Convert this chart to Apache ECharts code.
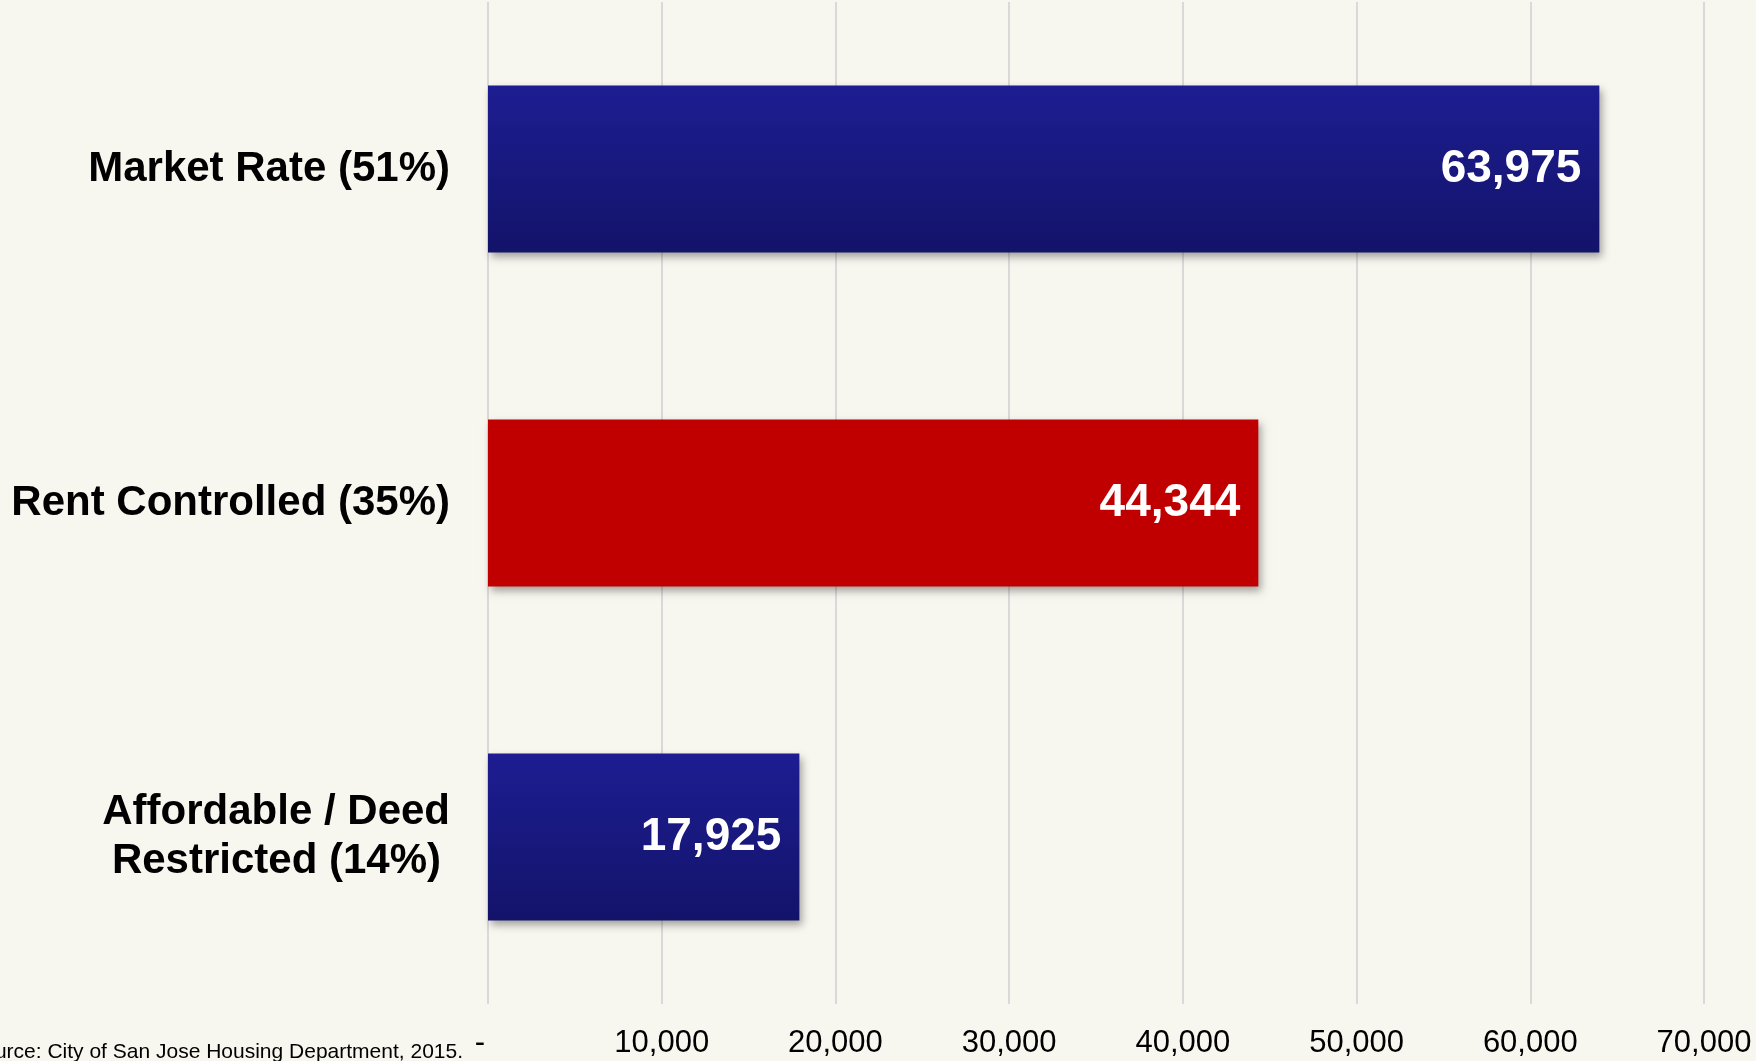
<!DOCTYPE html>
<html>
<head>
<meta charset="utf-8">
<script src="https://cdn.jsdelivr.net/npm/echarts@6/dist/echarts.min.js"></script>
<style>
  html, body { margin: 0; padding: 0; background: #f7f6ef; }
  #chart { width: 1756px; height: 1061px; }
</style>
</head>
<body>
<div id="chart"></div>
<script>
// housing units by type
var categories = ['Market Rate (51%)', 'Rent Controlled (35%)', 'Affordable / Deed\nRestricted (14%)'];
var units = [63975, 44344, 17925];
var barColors = ['blue', 'red', 'blue'];
var axisMax = 70000;
var axisStep = 10000;
var sourceNote = 'Source: City of San Jose Housing Department, 2015.';

var blueFill = new echarts.graphic.LinearGradient(0, 0, 0, 1, [
  { offset: 0, color: '#1d1d92' },
  { offset: 1, color: '#13136a' }
]);
var redFill = '#c00000';

var barData = [];
for (var i = 0; i < units.length; i++) {
  barData.push({
    value: units[i],
    itemStyle: { color: barColors[i] == 'red' ? redFill : blueFill }
  });
}

var chart = echarts.init(document.getElementById('chart'));
var option = {
  backgroundColor: '#f7f6ef',
  animation: false,
  grid: { left: 488, right: 52, top: 2, bottom: 57, containLabel: false },
  xAxis: {
    type: 'value',
    min: 0,
    max: axisMax,
    interval: axisStep,
    axisLine: { show: false },
    axisTick: { show: false },
    splitLine: { show: true, lineStyle: { color: '#d9d9d9', width: 2 } },
    axisLabel: {
      margin: 24,
      color: '#000',
      fontFamily: 'Liberation Sans, Arial, sans-serif',
      fontSize: 31,
      formatter: function (v) {
        return v === 0 ? '{d|-}' : v.toLocaleString('en-US');
      },
      rich: {
        d: { fontSize: 31, color: '#000', padding: [0, 16, 6, 0] }
      }
    }
  },
  yAxis: {
    type: 'category',
    inverse: true,
    data: categories,
    axisLine: { show: false },
    axisTick: { show: false },
    axisLabel: {
      margin: 38,
      color: '#000',
      fontFamily: 'Liberation Sans, Arial, sans-serif',
      fontWeight: 'bold',
      fontSize: 42,
      lineHeight: 49,
      formatter: function (v) {
        var parts = v.split('\n');
        if (parts.length == 1) return '{a|' + v + '}';
        return '{a|' + parts[0] + '}\n{b|' + parts[1] + '}';
      },
      rich: {
        a: { fontSize: 42, fontWeight: 'bold', lineHeight: 49, color: '#000' },
        b: { fontSize: 42, fontWeight: 'bold', lineHeight: 49, color: '#000', padding: [0, 9, 0, 0] }
      }
    }
  },
  series: [{
    type: 'bar',
    barWidth: '50%',
    data: barData,
    itemStyle: {
      shadowColor: 'rgba(0,0,0,0.35)',
      shadowBlur: 8,
      shadowOffsetX: 3,
      shadowOffsetY: 4
    },
    label: {
      show: true,
      position: 'insideRight',
      distance: 18,
      color: '#fff',
      fontFamily: 'Liberation Sans, Arial, sans-serif',
      fontWeight: 'bold',
      fontSize: 46,
      formatter: function (p) { return p.value.toLocaleString('en-US'); }
    }
  }],
  graphic: [{
    type: 'text',
    right: 1756 - 463,
    top: 1042,
    style: {
      text: sourceNote,
      fill: '#000',
      font: '21px "Liberation Sans", Arial, sans-serif',
      textAlign: 'right'
    }
  }]
};
chart.setOption(option);
</script>
</body>
</html>
